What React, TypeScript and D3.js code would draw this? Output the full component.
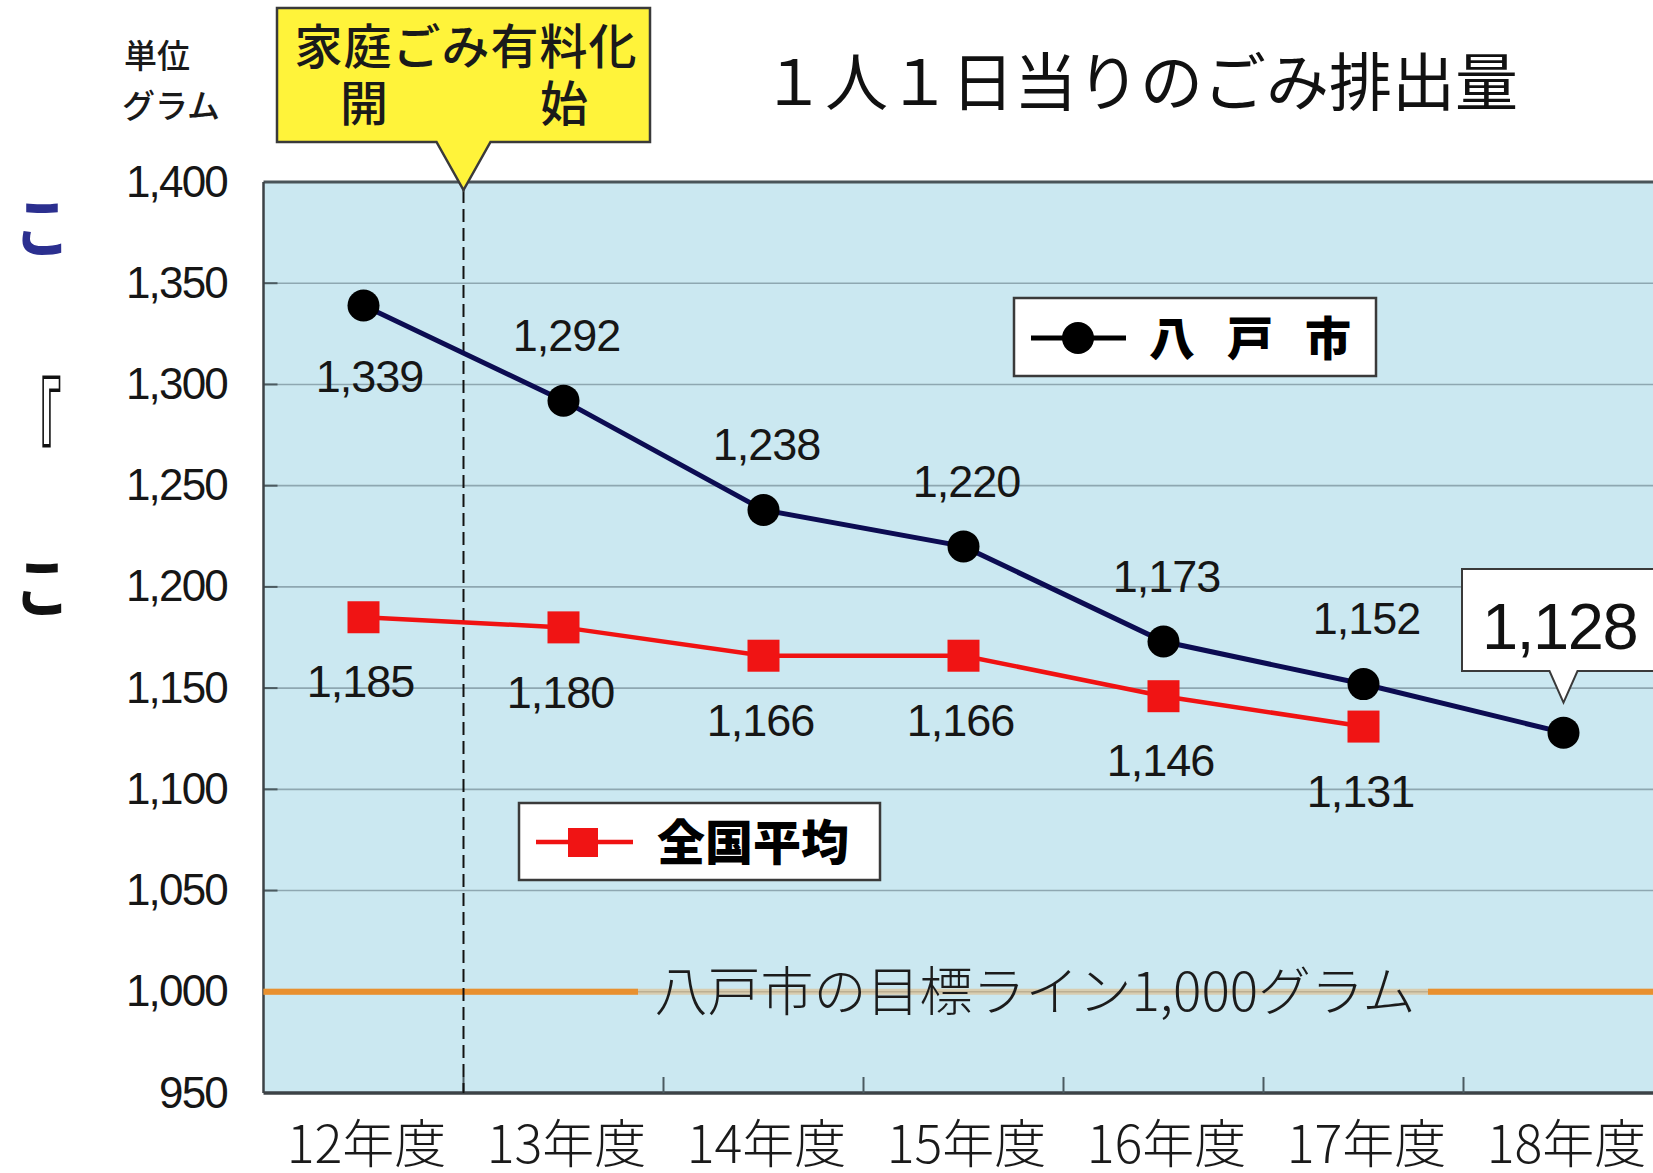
import React from 'react';
import * as d3 from 'd3';

const categories = ['12年度', '13年度', '14年度', '15年度', '16年度', '17年度', '18年度'];
const hachinohe = [1339, 1292, 1238, 1220, 1173, 1152, 1128];
const national = [1185, 1180, 1166, 1166, 1146, 1131];
const hachinoheLabelSide = ['below', 'above', 'above', 'above', 'above', 'above', 'callout'];
const yTicks = [950, 1000, 1050, 1100, 1150, 1200, 1250, 1300, 1350, 1400];
const targetValue = 1000;
const feeStartAfter = '12年度';

const W = 1653;
const H = 1173;
const JP = '"Noto Sans CJK JP", "Noto Sans", sans-serif';
const NUM = '"Liberation Sans", Arial, sans-serif';

export default function App() {
  const x = d3.scaleBand<string>().domain(categories).range([263.5, 263.5 + 200 * categories.length]).padding(0);
  const y = d3.scaleLinear().domain([950, 1400]).range([1093, 182]);
  const cx = (c: string) => (x(c) as number) + x.bandwidth() / 2;
  const fmt = d3.format(',');
  const plotL = 263.5;
  const plotR = W + 20;
  const plotT = y(1400);
  const plotB = y(950);

  const lineGen = d3.line<number>().x((_, i) => cx(categories[i])).y((d) => y(d));
  const dashX = (x(feeStartAfter) as number) + x.bandwidth();

  const ty = y(targetValue);
  const textL = 638;
  const textR = 1428;

  const last = hachinohe.length - 1;
  const lastX = cx(categories[last]);
  const lastY = y(hachinohe[last]);

  return (
    <svg width={W} height={H} style={{ position: 'absolute', left: 0, top: 0, background: '#fff' }}>
      <rect x={0} y={0} width={W} height={H} fill="#fff" />
      {/* stray page fragments at left edge */}
      <text transform="translate(14,252) scale(0.85,1)" fontFamily={JP} fontSize={66} fill="#2b2f8f" fontWeight={700}>こ</text>
      <text transform="translate(13,467) scale(0.7,1.55)" fontFamily={JP} fontSize={70} fill="#111" fontWeight={400}>『</text>
      <text transform="translate(14,612) scale(0.85,1)" fontFamily={JP} fontSize={66} fill="#111" fontWeight={700}>こ</text>

      {/* plot background */}
      <rect x={plotL} y={plotT} width={plotR - plotL} height={plotB - plotT} fill="#cbe8f1" />
      {/* gridlines */}
      {yTicks.filter((t) => t !== 950 && t !== 1400).map((t) => (
        <g key={t}>
          <line x1={plotL} x2={plotR} y1={y(t)} y2={y(t)} stroke="#8ea7b1" strokeWidth={1.6} />
          <line x1={plotL} x2={plotL + 14} y1={y(t)} y2={y(t)} stroke="#4b5a60" strokeWidth={2} />
        </g>
      ))}
      {/* frame */}
      <line x1={plotL} x2={plotR} y1={plotT} y2={plotT} stroke="#4a5459" strokeWidth={3} />
      <line x1={plotL} x2={plotR} y1={plotB} y2={plotB} stroke="#3c4246" strokeWidth={3.5} />
      <line x1={plotL} x2={plotL} y1={plotT} y2={plotB} stroke="#3c4246" strokeWidth={2.5} />
      {/* bottom ticks */}
      {categories.slice(1).map((c) => (
        <line key={c} x1={x(c) as number} x2={x(c) as number} y1={plotB} y2={plotB - 16} stroke="#4b5a60" strokeWidth={2} />
      ))}

      {/* target line */}
      <line x1={plotL} x2={plotR} y1={ty} y2={ty} stroke="#e3b77c" strokeWidth={6} opacity={0.55} />
      <line x1={plotL} x2={textL} y1={ty} y2={ty} stroke="#e8902f" strokeWidth={6} />
      <line x1={textR} x2={plotR} y1={ty} y2={ty} stroke="#e8902f" strokeWidth={6} />
      <text x={(textL + textR) / 2 + 2} y={ty} dy="0.36em" textAnchor="middle" fontFamily={JP} fontSize={53} fontWeight={300} fill="#1c1c1c">
        八戸市の目標ライン1,000グラム
      </text>

      {/* dashed fee start line */}
      <line x1={dashX} x2={dashX} y1={plotT + 8} y2={plotB} stroke="#111" strokeWidth={2} strokeDasharray="13,6" />

      {/* y tick labels */}
      {yTicks.map((t) => (
        <text key={t} x={227} y={y(t)} dy="0.33em" textAnchor="end" fontFamily={NUM} fontSize={44} fill="#161616" letterSpacing={-1.8}>
          {fmt(t)}
        </text>
      ))}
      <text x={124} y={68} fontFamily={JP} fontSize={33} fontWeight={500} fill="#1a1a1a">単位</text>
      <text x={122} y={118} fontFamily={JP} fontSize={33} fontWeight={500} fill="#1a1a1a">グラム</text>

      {/* x labels */}
      {categories.map((c) => (
        <text key={c} x={cx(c) + 3} y={1144} dy="0.36em" textAnchor="middle" fontFamily={JP} fontSize={52} fontWeight={300} fill="#1a1a1a">
          {c}
        </text>
      ))}

      {/* title */}
      <text x={1140} y={82} dy="0.36em" textAnchor="middle" fontFamily={JP} fontSize={63} fontWeight={400} fill="#111">
        １人１日当りのごみ排出量
      </text>

      {/* yellow callout */}
      <path d={`M277,8 H650 V142 H${dashX + 27} L${dashX},190 L${dashX - 27},142 H277 Z`} fill="#fff33a" stroke="#3a3a3a" strokeWidth={2.5} />
      <text x={466} y={47} dy="0.36em" textAnchor="middle" fontFamily={JP} fontSize={48} fontWeight={500} fill="#1a1a1a" letterSpacing={1}>
        家庭ごみ有料化
      </text>
      <text x={364} y={104} dy="0.36em" textAnchor="middle" fontFamily={JP} fontSize={48} fontWeight={500} fill="#1a1a1a">開</text>
      <text x={564} y={104} dy="0.36em" textAnchor="middle" fontFamily={JP} fontSize={48} fontWeight={500} fill="#1a1a1a">始</text>

      {/* national series */}
      <path d={lineGen(national) || ''} fill="none" stroke="#f01212" strokeWidth={4.5} />
      {national.map((v, i) => (
        <g key={i}>
          <rect x={cx(categories[i]) - 16} y={y(v) - 16} width={32} height={32} fill="#f01414" />
          <text x={cx(categories[i]) - 3} y={y(v) + 64} dy="0.36em" textAnchor="middle" fontFamily={NUM} fontSize={45} fill="#161616" letterSpacing={-1}>
            {fmt(v)}
          </text>
        </g>
      ))}

      {/* hachinohe series */}
      <path d={lineGen(hachinohe) || ''} fill="none" stroke="#0c0c52" strokeWidth={5} />
      {hachinohe.map((v, i) => {
        const px = cx(categories[i]);
        const py = y(v);
        const side = hachinoheLabelSide[i];
        return (
          <g key={i}>
            <circle cx={px} cy={py} r={16} fill="#000" />
            {side !== 'callout' && (
              <text x={px + (side === 'below' ? 6 : 3)} y={side === 'below' ? py + 70 : py - 66} dy="0.36em" textAnchor="middle" fontFamily={NUM} fontSize={45} fill="#161616" letterSpacing={-1}>
                {fmt(v)}
              </text>
            )}
          </g>
        );
      })}

      {/* 1,128 callout */}
      <path d={`M1462,569 H1665 V671 H${lastX + 14} L${lastX},${lastY - 30} L${lastX - 14},671 H1462 Z`} fill="#fff" stroke="#3a3a3a" strokeWidth={2} />
      <text x={lastX - 4} y={626} dy="0.36em" textAnchor="middle" fontFamily={NUM} fontSize={65} fill="#111" letterSpacing={-1.5}>
        {fmt(hachinohe[last])}
      </text>

      {/* legend: 八戸市 */}
      <rect x={1014} y={298} width={362} height={78} fill="#fff" stroke="#3a3a3a" strokeWidth={2.5} />
      <line x1={1031} x2={1126} y1={338} y2={338} stroke="#000" strokeWidth={5} />
      <circle cx={1078} cy={338} r={16} fill="#000" />
      <text x={1149} y={338} dy="0.36em" textAnchor="start" fontFamily={JP} fontSize={46} fontWeight={900} fill="#000" letterSpacing={32}>
        八戸市
      </text>

      {/* legend: 全国平均 */}
      <rect x={519} y={803} width={361} height={77} fill="#fff" stroke="#3a3a3a" strokeWidth={2.5} />
      <line x1={536} x2={633} y1={842} y2={842} stroke="#f01212" strokeWidth={4.5} />
      <rect x={568} y={828} width={30} height={29} fill="#f01414" />
      <text x={753} y={843} dy="0.36em" textAnchor="middle" fontFamily={JP} fontSize={48} fontWeight={900} fill="#000">
        全国平均
      </text>
    </svg>
  );
}
